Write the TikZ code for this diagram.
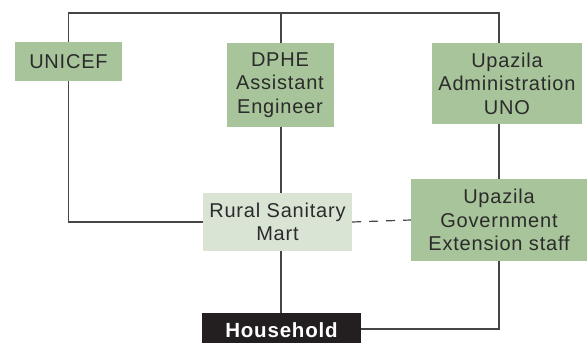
\documentclass[tikz,border=0pt]{standalone}
\usepackage{fontspec}
\setmainfont[LetterSpace=4]{Liberation Sans}
\usetikzlibrary{positioning}

\definecolor{boxgreen}{HTML}{A8C49A}
\definecolor{martgreen}{HTML}{D9E4D4}
\definecolor{hhblack}{HTML}{231F20}
\definecolor{linegray}{HTML}{454545}
\definecolor{txtgray}{HTML}{2B2B2B}

\tikzset{
    orgbox/.style={fill=boxgreen, text=txtgray, align=center, inner sep=0pt,
        font=\fontsize{20}{23.5}\selectfont},
    martbox/.style={orgbox, fill=martgreen},
    hhbox/.style={fill=hhblack, text=white, inner sep=0pt,
        font=\fontsize{20.5}{23}\selectfont\bfseries},
    conn/.style={draw=linegray, line width=1.2pt}
}

\begin{document}
\begin{tikzpicture}[x=1pt, y=-1pt]
        \useasboundingbox (0, 0) rectangle (587, 343);

        \node[orgbox, minimum width=107pt, minimum height=39pt] (unicef) at (68.5, 61.5) {UNICEF};
        \node[orgbox, minimum width=107pt, minimum height=84pt] (dphe) at (280, 85) {DPHE\\Assistant\\Engineer};
        \node[orgbox, minimum width=150pt, minimum height=81pt] (admin) at (507, 83.5) {Upazila\\Administration\\UNO};
        \node[martbox, minimum width=149pt, minimum height=58pt] (mart) at (277.5, 222) {Rural Sanitary\\Mart};
        \node[orgbox, minimum width=176pt, minimum height=82pt] (ugov) at (499, 220) {Upazila\\Government\\Extension staff};
        \node[hhbox, minimum width=159pt, minimum height=34pt] (household) at (281.5, 330) {Household};

        \coordinate (top) at (281, 13);

        % top bracket
        \draw[conn] (unicef.north) -- (unicef.north |- top) -- (ugov.north |- top) -- (ugov.north |- admin.north);
        \draw[conn] (dphe.north -| top) -- (top);

        % down to the mart
        \draw[conn] (unicef.south) |- (mart.west);
        \draw[conn] (dphe.south -| top) -- (mart.north -| top);
        \draw[conn, dashed, dash pattern=on 9pt off 8pt] (mart.east) -- (ugov.west);
        \draw[conn] (ugov.north |- admin.south) -- (ugov.north);

        % household
        \draw[conn] (mart.south -| top) -- (household.north -| top);
        \draw[conn] (household.east |- 0, 329) -| (ugov.south);
    \end{tikzpicture}
\end{document}
